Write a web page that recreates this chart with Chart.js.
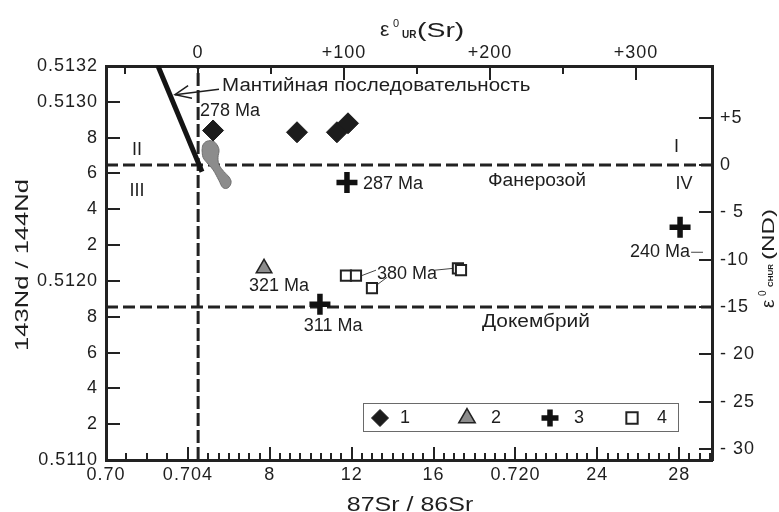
<!DOCTYPE html>
<html>
<head>
<meta charset="utf-8">
<script src="https://cdn.jsdelivr.net/npm/chart.js@4/dist/chart.umd.min.js"></script>
<style>
  body { margin: 0; background: #fff; }
  canvas { display: block; }
</style>
</head>
<body>
<canvas id="chart" width="779" height="512"></canvas>
<script>
// ─── DATA (87Sr/86Sr, 143Nd/144Nd) ───────────────────────
const group1 = [[0.70523, 0.51284], [0.70933, 0.51283], [0.71128, 0.51283], [0.71182, 0.51288]]
const group2 = [[0.70772, 0.51207]]
const group3 = [[0.71177, 0.51255], [0.71045, 0.51187], [0.72804, 0.51230]]
const group4 = [[0.71172, 0.51203], [0.71221, 0.51203], [0.71299, 0.51196], [0.71719, 0.51207], [0.71734, 0.51206]]

// серое поле
const greyField = [[0.70469, 0.51273], [0.70474, 0.51276], [0.70493, 0.51278], [0.70523, 0.51278], [0.70542, 0.51276],
    [0.70552, 0.51273], [0.70547, 0.51269], [0.70552, 0.51265], [0.70576, 0.51261], [0.70601, 0.51258],
    [0.70611, 0.51255], [0.70596, 0.51252], [0.70572, 0.51252], [0.70552, 0.51256], [0.70523, 0.51262],
    [0.70493, 0.51266], [0.70474, 0.51269], [0.70469, 0.51273]]

// мантийная последовательность
const mantleLine = [[0.70254, 0.51320], [0.70469, 0.51261]]
const arrowShaft = [[0.70552, 0.51307], [0.70337, 0.51304]]
const arrowHead = [[0.70401, 0.51309], [0.70337, 0.51304], [0.70420, 0.51302]]

// выноски
const leaders = [
    [[0.71250, 0.51203], [0.71319, 0.51206]],
    [[0.71373, 0.51202], [0.71314, 0.51197]],
    [[0.71607, 0.51206], [0.71695, 0.51207]],
    [[0.72858, 0.51216], [0.72916, 0.51216]]
]

// границы: εNd = 0 и εNd = -15, 87Sr/86Sr UR (εSr = 0)
const epsNdLines = [0, -15]
const epsSrLine = 0

// ─── TICKS ────────────────────────────────────────────────
const xTickValues = [0.700, 0.701, 0.702, 0.703]
for (let v = 0.704; v < 0.72975; v += 0.0005) xTickValues.push(Math.round(v * 10000) / 10000)
const xLabelValues = [0.700, 0.704, 0.708, 0.712, 0.716, 0.720, 0.724, 0.728]
const xLabelTexts = ['0.70', '0.704', '8', '12', '16', '0.720', '24', '28']

const yTickValues = [0.5110, 0.5112, 0.5114, 0.5116, 0.5118, 0.5120, 0.5122, 0.5124, 0.5126, 0.5128, 0.5130, 0.5132]
const yTickLabels = ['0.5110', '2', '4', '6', '8', '0.5120', '2', '4', '6', '8', '0.5130', '0.5132']

const topTickValues = [-50, 0, 50, 100, 150, 200, 250, 300]
const topTickLabels = ['', '0', '', '+100', '', '+200', '', '+300']

const rightTickValues = [-30, -25, -20, -15, -10, -5, 0, 5]
const rightTickLabels = ['- 30', '- 25', '- 20', '-15', '-10', '- 5', '0', '+5']

// подписи на поле
const notes = [
    { t: 'Мантийная последовательность', x: 0.70567, y: 0.51309, align: 'left', sx: 1.14 },
    { t: '278 Ma', x: 0.70459, y: 0.51295, align: 'left' },
    { t: '287 Ma', x: 0.71255, y: 0.51254, align: 'left' },
    { t: '321 Ma', x: 0.70845, y: 0.51197, align: 'center' },
    { t: '311 Ma', x: 0.71109, y: 0.51175, align: 'center' },
    { t: '380 Ma', x: 0.71324, y: 0.51204, align: 'left' },
    { t: '240 Ma', x: 0.72853, y: 0.51216, align: 'right' },
    { t: 'Фанерозой', x: 0.72105, y: 0.51256, align: 'center', sx: 1.07 },
    { t: 'Докембрий', x: 0.72100, y: 0.51177, align: 'center', sx: 1.16 },
    { t: 'I', x: 0.72787, y: 0.51275, align: 'center' },
    { t: 'II', x: 0.70151, y: 0.51273, align: 'center' },
    { t: 'III', x: 0.70151, y: 0.51250, align: 'center' },
    { t: 'IV', x: 0.72823, y: 0.51254, align: 'center' }
]
const legendTexts = ['1', '2', '3', '4']

// ─── HELPERS ──────────────────────────────────────────────
const INK = '#1e1e1e'
const FONT = '"Liberation Sans", Arial, sans-serif'
const pts = arr => arr.map(([x, y]) => ({ x, y }))
const isLabeledX = v => v > 0.7001 && xLabelValues.some(l => Math.abs(l - v) < 1e-7)

function drawText(ctx, s, x, y, o = {}) {
    ctx.save()
    ctx.translate(x, y)
    if (o.rot) ctx.rotate(o.rot)
    ctx.scale(o.sx || 1, 1)
    ctx.font = `${o.bold ? 'bold ' : ''}${o.size || 18}px ${FONT}`
    ctx.fillStyle = INK
    ctx.textAlign = o.align || 'left'
    ctx.textBaseline = o.baseline || 'middle'
    ctx.fillText(s, 0, 0)
    ctx.restore()
}

function lineSet(data, extra = {}) {
    return Object.assign({
        data: pts(data), showLine: true, pointRadius: 0, borderColor: INK,
        borderWidth: 1.2, fill: false, tension: 0
    }, extra)
}

// ─── PLUGINS ──────────────────────────────────────────────
const tickSpacing = {
    id: 'tickSpacing',
    beforeDraw(chart) { chart.ctx.letterSpacing = '1px' },
    beforeDatasetsDraw(chart) { chart.ctx.letterSpacing = '0px' }
}

// засечки внутрь поля
const tickLen = {
    x: v => isLabeledX(v) ? 13 : 7,
    xt: v => v % 100 === 0 ? 14 : 8,
    y: () => 14,
    yr: () => 13
}
const innerTicks = {
    id: 'innerTicks',
    beforeDatasetsDraw(chart) {
        const { ctx, chartArea: a } = chart
        ctx.save()
        ctx.strokeStyle = '#222'
        ctx.lineWidth = 2
        Object.keys(tickLen).forEach(id => {
            const s = chart.scales[id]
            s.ticks.forEach(t => {
                const p = Math.round(s.getPixelForValue(t.value))
                const l = tickLen[id](t.value)
                ctx.beginPath()
                if (id === 'x') { ctx.moveTo(p, a.bottom); ctx.lineTo(p, a.bottom - l) }
                if (id === 'xt') { ctx.moveTo(p, a.top); ctx.lineTo(p, a.top + l) }
                if (id === 'y') { ctx.moveTo(a.left, p); ctx.lineTo(a.left + l, p) }
                if (id === 'yr') { ctx.moveTo(a.right, p); ctx.lineTo(a.right - l, p) }
                ctx.stroke()
            })
        })
        ctx.restore()
    }
}

const annotations = {
    id: 'annotations',
    afterDraw(chart) {
        const { ctx, scales } = chart
        notes.forEach(n => {
            drawText(ctx, n.t, scales.x.getPixelForValue(n.x), scales.y.getPixelForValue(n.y),
                { align: n.align, sx: n.sx, size: n.size || 18 })
        })

        // легенда
        const box = { left: 363, top: 403, right: 678, bottom: 431 }
        ctx.save()
        ctx.strokeStyle = '#6a6a6a'
        ctx.lineWidth = 1
        ctx.strokeRect(box.left + 0.5, box.top + 0.5, box.right - box.left, box.bottom - box.top)
        ctx.restore()
        const cy = (box.top + box.bottom) / 2 + 1
        const markX = [380, 467, 550, 632]
        const textX = [405, 496, 579, 662]
        const sizes = [8.5, 9.5, 8.5, 8]
        legendTexts.forEach((t, i) => {
            const ds = chart.data.datasets[i]
            ctx.save()
            ctx.fillStyle = ds.backgroundColor
            ctx.strokeStyle = ds.borderColor
            ctx.lineWidth = ds.borderWidth
            Chart.helpers.drawPoint(ctx, { pointStyle: ds.pointStyle, radius: sizes[i], borderWidth: ds.borderWidth, rotation: 0 }, markX[i], cy)
            ctx.restore()
            drawText(ctx, t, textX[i], cy, { align: 'center', size: 18 })
        })

        // заголовки осей
        drawText(ctx, '87Sr / 86Sr', 410, 511, { align: 'center', baseline: 'alphabetic', size: 21, sx: 1.19 })
        drawText(ctx, '143Nd / 144Nd', 28, 265, { align: 'center', baseline: 'alphabetic', size: 18, sx: 1.42, rot: -Math.PI / 2 })

        // ε°UR(Sr)
        drawText(ctx, 'ε', 380, 36, { baseline: 'alphabetic', size: 21 })
        drawText(ctx, '0', 393, 27, { baseline: 'alphabetic', size: 11 })
        drawText(ctx, 'UR', 402, 38, { baseline: 'alphabetic', size: 10, bold: true })
        drawText(ctx, '(Sr)', 417, 37, { baseline: 'alphabetic', size: 20, sx: 1.42 })

        // ε°CHUR(ND), повернуто
        ctx.save()
        ctx.translate(774, 308)
        ctx.rotate(-Math.PI / 2)
        drawText(ctx, 'ε', 0, 0, { baseline: 'alphabetic', size: 19 })
        drawText(ctx, '0', 12, -8, { baseline: 'alphabetic', size: 10 })
        drawText(ctx, 'CHUR', 21, -1, { baseline: 'alphabetic', size: 8, bold: true })
        drawText(ctx, '(ND)', 48, 0, { baseline: 'alphabetic', size: 17, sx: 1.42 })
        ctx.restore()
    }
}

// ─── CHART ────────────────────────────────────────────────
Chart.defaults.font.family = FONT
Chart.defaults.color = INK

const datasets = [
    { label: '1', data: pts(group1), pointStyle: 'rectRot', pointRadius: 10.5, backgroundColor: '#1c1c1c', borderColor: '#1c1c1c', borderWidth: 1 },
    { label: '2', data: pts(group2), pointStyle: 'triangle', pointRadius: 9, backgroundColor: '#8c8c8c', borderColor: '#222', borderWidth: 1.5 },
    { label: '3', data: pts(group3), pointStyle: 'cross', pointRadius: 10.5, backgroundColor: '#111', borderColor: '#111', borderWidth: 5.5 },
    { label: '4', data: pts(group4), pointStyle: 'rect', pointRadius: 7.2, backgroundColor: '#fff', borderColor: '#222', borderWidth: 2 },
    lineSet(greyField, { backgroundColor: '#8c8c8c', borderColor: '#6e6e6e', borderWidth: 1, fill: 'shape', tension: 0.4 }),
    lineSet(mantleLine, { borderWidth: 5, borderColor: '#141414' }),
    lineSet(arrowShaft, { borderWidth: 1.5 }),
    lineSet(arrowHead, { borderWidth: 1.5 }),
    ...leaders.map(l => lineSet(l, { borderWidth: 1, borderColor: '#444' })),
    ...epsNdLines.map(v => lineSet([[0.700, v], [0.7296, v]], { yAxisID: 'yr', borderWidth: 3, borderDash: [12, 5], borderColor: '#222' })),
    lineSet([[epsSrLine, 0.5110], [epsSrLine, 0.5132]], { xAxisID: 'xt', borderWidth: 3, borderDash: [13, 4], borderColor: '#222' })
]

const border = { display: true, width: 3, color: '#222' }
const noGrid = { display: false, drawOnChartArea: false, drawTicks: false, tickLength: 0 }
const tickFont = { size: 18 }

new Chart(document.getElementById('chart'), {
    type: 'scatter',
    data: { datasets },
    options: {
        responsive: false,
        animation: false,
        devicePixelRatio: 1,
        layout: { padding: 0 },
        plugins: { legend: { display: false }, tooltip: { enabled: false } },
        scales: {
            x: {
                type: 'linear', position: 'bottom', min: 0.700, max: 0.7296,
                afterBuildTicks: a => { a.ticks = xTickValues.map(v => ({ value: v })) },
                afterFit: a => { a.height = 52 },
                ticks: {
                    autoSkip: false, maxRotation: 0, minRotation: 0, padding: 4, font: tickFont, color: INK,
                    callback: v => {
                        const i = xLabelValues.findIndex(l => Math.abs(l - v) < 1e-7)
                        return i < 0 ? '' : xLabelTexts[i]
                    }
                },
                grid: noGrid,
                border
            },
            xt: {
                type: 'linear', position: 'top', min: -63.1, max: 352,
                afterBuildTicks: a => { a.ticks = topTickValues.map(v => ({ value: v })) },
                afterFit: a => { a.height = 66 },
                ticks: { autoSkip: false, maxRotation: 0, minRotation: 0, padding: 2, font: tickFont, color: INK, callback: (v, i) => topTickLabels[i] },
                grid: noGrid,
                border
            },
            y: {
                type: 'linear', position: 'left', min: 0.5110, max: 0.5132,
                afterBuildTicks: a => { a.ticks = yTickValues.map(v => ({ value: v })) },
                afterFit: a => { a.width = 106 },
                ticks: { autoSkip: false, padding: 8, font: tickFont, color: INK, callback: (v, i) => yTickLabels[i] },
                grid: noGrid,
                border
            },
            yr: {
                type: 'linear', position: 'right', min: -31.15, max: 10.45,
                afterBuildTicks: a => { a.ticks = rightTickValues.map(v => ({ value: v })) },
                afterFit: a => { a.width = 67 },
                ticks: { autoSkip: false, padding: 8, font: tickFont, color: INK, callback: (v, i) => rightTickLabels[i] },
                grid: noGrid,
                border
            }
        }
    },
    plugins: [tickSpacing, innerTicks, annotations]
})
</script>
</body>
</html>
